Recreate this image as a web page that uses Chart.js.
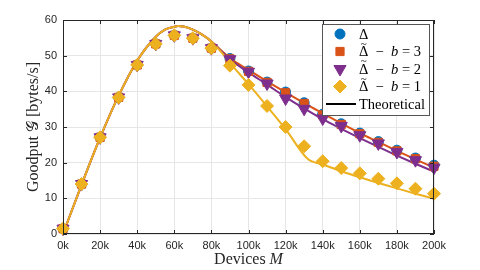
<!DOCTYPE html>
<html lang="en">
<head>
<meta charset="UTF-8">
<title>Goodput vs devices</title>
<script src="https://cdn.jsdelivr.net/npm/chart.js@4.4.0/dist/chart.umd.min.js"></script>
<style>
  html, body { margin: 0; padding: 0; background: #fff; }
  #wrap { position: relative; width: 480px; height: 270px; }
</style>
</head>
<body>
<div id="wrap"><canvas id="chart"></canvas></div>
<script>
// Devices M, in thousands (simulation points)
const devices = [0, 10, 20, 30, 40, 50, 60, 70, 80, 90, 100, 110, 120, 130, 140, 150, 160, 170, 180, 190, 200];

// Simulated goodput [bytes/s]
const simDelta = [1.5, 14.0, 27.1, 38.3, 47.4, 53.3, 55.7, 54.9, 52.1, 49.2, 45.7, 42.6, 39.8, 36.8, 33.6, 30.9, 28.3, 25.9, 23.5, 21.3, 19.3];
const simB3    = [1.5, 14.0, 27.1, 38.3, 47.4, 53.3, 55.7, 54.9, 52.1, 49.1, 45.6, 42.5, 39.6, 36.6, 33.4, 30.7, 28.1, 25.7, 23.3, 21.1, 19.0];
const simB2    = [1.5, 14.0, 27.1, 38.3, 47.4, 53.3, 55.7, 54.9, 52.1, 49.0, 45.5, 42.2, 38.0, 35.1, 32.4, 30.3, 27.7, 25.4, 23.0, 20.7, 18.6];
const simB1    = [1.5, 14.0, 27.1, 38.3, 47.4, 53.3, 55.7, 54.9, 52.1, 47.2, 41.8, 35.9, 30.0, 24.6, 20.4, 18.5, 17.0, 15.5, 14.2, 12.7, 11.3];

const theoryX  = [0, 10, 20, 30, 40, 50, 55, 60, 62, 65, 70, 75, 80, 85, 90, 100, 110, 120, 132, 140, 150, 160, 170, 180, 190, 200];
const theoryB3 = [0, 13.8, 27.0, 38.8, 48.6, 55.3, 57.3, 58.1, 58.3, 58.2, 57.3, 55.9, 54.0, 51.6, 49.3, 46.0, 42.8, 39.7, 36.1, 33.8, 31.0, 28.3, 25.8, 23.3, 20.9, 18.6];
const theoryB2 = [0, 13.8, 27.0, 38.8, 48.6, 55.3, 57.3, 58.1, 58.3, 58.2, 57.3, 55.9, 54.0, 51.4, 49.0, 45.3, 41.9, 38.4, 34.6, 32.2, 29.5, 26.9, 24.4, 22.0, 19.7, 17.5];
const theoryB1 = [0, 13.8, 27.0, 38.8, 48.6, 55.3, 57.3, 58.1, 58.3, 58.2, 57.3, 55.9, 54.0, 51.2, 48.0, 42.0, 35.8, 29.4, 21.0, 19.5, 17.6, 15.9, 14.3, 12.8, 11.3, 9.9];

// Axis ticks
const xTicks = [0, 20, 40, 60, 80, 100, 120, 140, 160, 180, 200];
const yTicks = [0, 10, 20, 30, 40, 50, 60];

const BLUE = '#0072BD', ORANGE = '#D95319', YELLOW = '#EDB120', PURPLE = '#7E2F8E';
const SERIF = '"Liberation Serif", "DejaVu Serif", serif';
const SANS = '"Liberation Sans", Arial, sans-serif';

const pts = (xs, ys) => xs.map((x, i) => ({ x, y: ys[i] }));

function markerSet(label, ys, color, style, radius, rotation, order) {
  return {
    label, data: pts(devices, ys), type: 'scatter', showLine: false,
    pointStyle: style, pointRadius: radius, pointRotation: rotation || 0,
    backgroundColor: color, borderColor: color, borderWidth: 1,
    pointHoverRadius: radius, order, clip: 12
  };
}
function theorySet(ys, color, order) {
  return {
    label: 'Theoretical', data: pts(theoryX, ys), type: 'line',
    borderColor: color, backgroundColor: color, borderWidth: 2,
    pointRadius: 0, cubicInterpolationMode: 'monotone', fill: false, order
  };
}

const datasets = [
  markerSet('b1', simB1, YELLOW, 'rectRot', 6.5, 0, 1),
  markerSet('b2', simB2, PURPLE, 'triangle', 7, 180, 2),
  markerSet('b3', simB3, ORANGE, 'rect', 5.8, 0, 3),
  markerSet('delta', simDelta, BLUE, 'circle', 5, 0, 4),
  theorySet(theoryB1, YELLOW, 5),
  theorySet(theoryB2, PURPLE, 6),
  theorySet(theoryB3, ORANGE, 7)
];

// Legend rows: text parts are [text, style] with style '', 'i' (italic) or 't' (tilde accent)
const legendRows = [
  { color: BLUE, style: 'circle', radius: 5, rot: 0, parts: [['Δ', '']] },
  { color: ORANGE, style: 'rect', radius: 5.8, rot: 0, parts: [['Δ', 't'], ['  −  ', ''], ['b', 'i'], [' = 3', '']] },
  { color: PURPLE, style: 'triangle', radius: 7, rot: 180, parts: [['Δ', 't'], ['  −  ', ''], ['b', 'i'], [' = 2', '']] },
  { color: YELLOW, style: 'rectRot', radius: 6.5, rot: 0, parts: [['Δ', 't'], ['  −  ', ''], ['b', 'i'], [' = 1', '']] },
  { color: '#000', style: 'line', parts: [['Theoretical', '']] }
];

function drawParts(ctx, parts, x, y, size) {
  let cx = x;
  parts.forEach(([t, st]) => {
    ctx.font = (st === 'i' ? 'italic ' : '') + size + 'px ' + SERIF;
    ctx.fillText(t, cx, y);
    const w = ctx.measureText(t).width;
    if (st === 't') {
      ctx.font = '11px ' + SERIF;
      const tw = ctx.measureText('~').width;
      ctx.fillText('~', cx + w / 2 - tw / 2, y - 8.5);
    }
    cx += w;
  });
  return cx;
}
function partsWidth(ctx, parts, size) {
  let w = 0;
  parts.forEach(([t, st]) => {
    ctx.font = (st === 'i' ? 'italic ' : '') + size + 'px ' + SERIF;
    w += ctx.measureText(t).width;
  });
  return w;
}

const decor = {
  id: 'decor',
  afterDatasetsDraw(chart) {
    const ctx = chart.ctx, a = chart.chartArea;
    const xs = chart.scales.x, ys = chart.scales.y;
    ctx.save();
    ctx.strokeStyle = '#262626';
    ctx.lineWidth = 1;
    ctx.strokeRect(a.left + 0.5, a.top + 0.5, a.right - a.left - 1, a.bottom - a.top - 1);
    ctx.beginPath();
    xTicks.forEach(v => {
      const px = Math.round(xs.getPixelForValue(v)) + 0.5;
      ctx.moveTo(px, a.bottom); ctx.lineTo(px, a.bottom - 4);
      ctx.moveTo(px, a.top); ctx.lineTo(px, a.top + 4);
    });
    yTicks.forEach(v => {
      const py = Math.round(ys.getPixelForValue(v)) + 0.5;
      ctx.moveTo(a.left, py); ctx.lineTo(a.left + 4, py);
      ctx.moveTo(a.right, py); ctx.lineTo(a.right - 4, py);
    });
    ctx.stroke();
    ctx.restore();
  },
  afterDraw(chart) {
    const ctx = chart.ctx, a = chart.chartArea;
    ctx.save();
    ctx.fillStyle = '#262626';
    ctx.textBaseline = 'middle';

    // x title
    const xParts = [['Devices ', ''], ['M', 'i']];
    const xw = partsWidth(ctx, xParts, 16);
    drawParts(ctx, xParts, (a.left + a.right) / 2 - xw / 2, 260, 16);

    // y title
    const yParts = [['Goodput ', ''], ['𝒢', ''], [' [bytes/s]', '']];
    const yw = partsWidth(ctx, yParts, 16);
    ctx.save();
    ctx.translate(34, (a.top + a.bottom) / 2);
    ctx.rotate(-Math.PI / 2);
    drawParts(ctx, yParts, -yw / 2, 0, 16);
    ctx.restore();

    // legend
    const lx = 322, ly = 24, lw = 107, lh = 91;
    ctx.fillStyle = '#fff';
    ctx.fillRect(lx, ly, lw, lh);
    ctx.strokeStyle = '#555';
    ctx.lineWidth = 1;
    ctx.strokeRect(lx + 0.5, ly + 0.5, lw, lh);
    legendRows.forEach((r, i) => {
      const cy = 34 + i * 17.5;
      if (r.style === 'line') {
        ctx.strokeStyle = r.color;
        ctx.lineWidth = 2;
        ctx.beginPath();
        ctx.moveTo(326, cy); ctx.lineTo(356, cy);
        ctx.stroke();
      } else {
        ctx.fillStyle = r.color;
        ctx.strokeStyle = r.color;
        ctx.lineWidth = 1;
        Chart.helpers.drawPoint(ctx, { pointStyle: r.style, radius: r.radius, rotation: r.rot, borderWidth: 1 }, 340, cy);
      }
      ctx.fillStyle = '#000';
      drawParts(ctx, r.parts, 359, cy + 1, 14.5);
    });
    ctx.restore();
  }
};

new Chart(document.getElementById('chart'), {
  data: { datasets },
  options: {
    responsive: true,
    maintainAspectRatio: false,
    animation: false,
    layout: { padding: { top: 20, right: 46, left: 0, bottom: 0 } },
    plugins: { legend: { display: false }, tooltip: { enabled: false } },
    scales: {
      x: {
        type: 'linear', min: 0, max: 200,
        afterBuildTicks: s => { s.ticks = xTicks.map(v => ({ value: v })); },
        afterFit: s => { s.height = 36; },
        ticks: { callback: v => v + 'k', color: '#262626', font: { family: SANS, size: 11 }, padding: 5, maxRotation: 0 },
        grid: { color: '#e6e6e6', drawTicks: false },
        border: { display: false }
      },
      y: {
        type: 'linear', min: 0, max: 60,
        afterBuildTicks: s => { s.ticks = yTicks.map(v => ({ value: v })); },
        afterFit: s => { s.width = 63; },
        ticks: { color: '#262626', font: { family: SANS, size: 11 }, padding: 6 },
        grid: { color: '#e6e6e6', drawTicks: false },
        border: { display: false }
      }
    }
  },
  plugins: [decor]
});
</script>
</body>
</html>
